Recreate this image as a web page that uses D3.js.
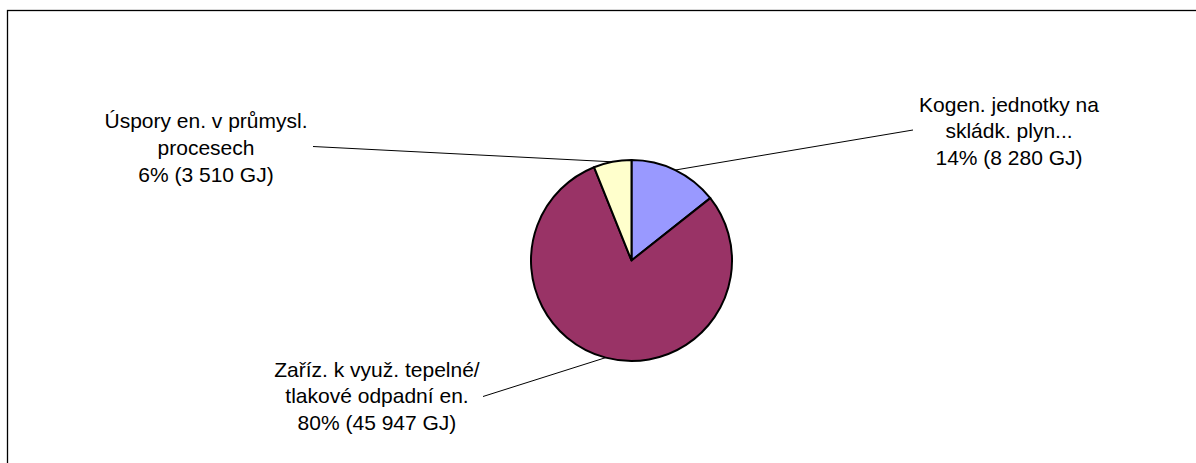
<!DOCTYPE html>
<html><head><meta charset="utf-8">
<script src="https://cdn.jsdelivr.net/npm/d3@7/dist/d3.min.js"></script>
<style>html,body{margin:0;padding:0;background:#fff;overflow:hidden}</style>
</head><body>
<svg id="chart" width="1196" height="463"></svg>
<script>
const categories = [
  ["Kogen. jednotky na", "skládk. plyn..."],
  ["Zaříz. k využ. tepelné/", "tlakové odpadní en."],
  ["Úspory en. v průmysl.", "procesech"]
];
const values = [8280, 45947, 3510];
const valueLabels = ["14% (8 280 GJ)", "80% (45 947 GJ)", "6% (3 510 GJ)"];
const colors = ["#9999FF", "#993366", "#FFFFCC"];

const svg = d3.select("#chart");
svg.append("rect").attr("x", 7.5).attr("y", 10.5).attr("width", 1300).attr("height", 600)
  .attr("fill", "#fff").attr("stroke", "#000").attr("stroke-width", 1.3);

const cx = 631.5, cy = 260.5, R = 100.5;
const pie = d3.pie().sort(null).startAngle(0).endAngle(2 * Math.PI);
const arcs = pie(values);
const arc = d3.arc().innerRadius(0).outerRadius(R);
const g = svg.append("g").attr("transform", `translate(${cx},${cy})`);

// label layout (center x, first baseline y, leader start point)
const labelPos = [
  {x: 1009, y: 111.7, lx: 913, ly: 130},
  {x: 377, y: 376.7, lx: 483, ly: 396.5},
  {x: 206, y: 128.3, lx: 313, ly: 146.5}
];
const lineH = 26.7;

// leader lines
arcs.forEach((a, i) => {
  const mid = (a.startAngle + a.endAngle) / 2;
  const px = cx + R * Math.sin(mid), py = cy - R * Math.cos(mid);
  svg.append("line")
    .attr("x1", labelPos[i].lx).attr("y1", labelPos[i].ly)
    .attr("x2", px).attr("y2", py)
    .attr("stroke", "#000").attr("stroke-width", 1);
});

g.selectAll("path").data(arcs).join("path")
  .attr("d", arc)
  .attr("fill", (d, i) => colors[i])
  .attr("stroke", "#000").attr("stroke-width", 2).attr("stroke-linejoin", "round");

arcs.forEach((a, i) => {
  const lines = categories[i].concat([valueLabels[i]]);
  const t = svg.append("text")
    .attr("font-family", "Liberation Sans, Arial, sans-serif")
    .attr("font-size", 21).attr("fill", "#000").attr("text-anchor", "middle");
  lines.forEach((s, k) => {
    t.append("tspan").attr("x", labelPos[i].x).attr("y", labelPos[i].y + k * lineH).text(s);
  });
});
</script>
</body></html>
